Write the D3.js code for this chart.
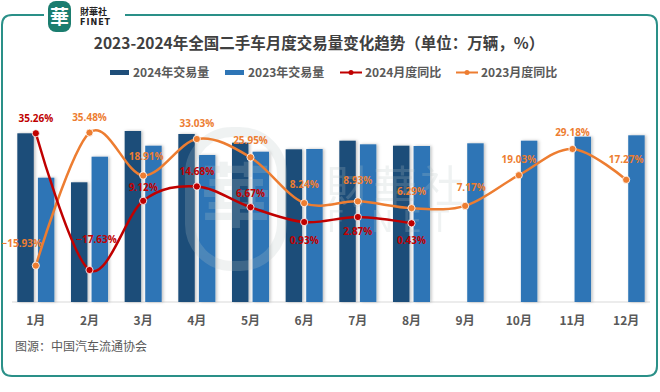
<!DOCTYPE html>
<html><head><meta charset="utf-8">
<script src="https://cdn.jsdelivr.net/npm/d3@7"></script>
<style>
html,body{margin:0;padding:0;background:#fff;}
svg{display:block;font-family:"Noto Sans CJK SC","Noto Sans",sans-serif;}
</style></head>
<body><svg id="c" width="660" height="392"></svg>
<script>
// ---- data ----
const months = ["1月","2月","3月","4月","5月","6月","7月","8月","9月","10月","11月","12月"];
const vol2024 = [168.7, 119.7, 171.0, 168.0, 159.3, 152.7, 161.3, 156.3];
const vol2023 = [124.3, 145.3, 156.3, 147.0, 150.3, 153.0, 157.7, 156.0, 158.7, 161.3, 165.3, 166.7];
const yoy2024 = [35.26, -17.63, 9.12, 14.68, 6.67, 0.93, 2.87, 0.43];
const yoy2023 = [-15.93, 35.48, 18.91, 33.03, 25.95, 8.24, 8.93, 6.29, 7.17, 19.03, 29.18, 17.27];
const seriesNames = ["2024年交易量","2023年交易量","2024月度同比","2023月度同比"];
const titleText = "2023-2024年全国二手车月度交易量变化趋势（单位：万辆，%）";
const sourceText = "图源：中国汽车流通协会";
// label placement (offsets from points)
const lab2024dy = [-15, -31, -13, -15, -14, 18, 14, 17];
const lab2024dx = [0, 7, 0, 0, 0, 0, 0, 0];
const lab2023dy = [-22, -15, -19, -16, -17, -19, -21, -17, -18, -16, -16, -20];
const lab2023dx = [-14, 0, 3, 0, 0, 0, 0, 0, 6, 0, 0, 0];

const C = {dark:"#1f4e79", blue:"#2e75b6", red:"#c00000", orange:"#ed7d31", teal:"#2a9088"};
const svg = d3.select("#c");

const defs = svg.append("defs");
const f = defs.append("filter").attr("id","sh").attr("x","-30%").attr("y","-10%").attr("width","160%").attr("height","120%");
f.append("feDropShadow").attr("dx",1.5).attr("dy",0).attr("stdDeviation",1.5).attr("flood-color","#000").attr("flood-opacity",0.25);

// frame
const fp = d3.path();
fp.moveTo(44,15); fp.lineTo(12,15); fp.quadraticCurveTo(2,15,2,25);
fp.lineTo(2,366); fp.quadraticCurveTo(2,376,12,376);
fp.lineTo(647,376); fp.quadraticCurveTo(657,376,657,366);
fp.lineTo(657,25); fp.quadraticCurveTo(657,15,647,15); fp.lineTo(125,15);
svg.append("path").attr("d",fp.toString()).attr("fill","none").attr("stroke",C.teal).attr("stroke-width",2);

// logo
svg.append("rect").attr("x",48).attr("y",1).attr("width",23).attr("height",31).attr("rx",8).attr("fill","#1b7d6f");
svg.append("text").attr("x",59.5).attr("y",24).attr("text-anchor","middle").attr("font-size",19).attr("font-weight",700).attr("fill","#fff").text("華");
svg.append("text").attr("x",80).attr("y",15).attr("font-size",9).attr("font-weight",700).attr("fill","#222").text("財華社");
svg.append("text").attr("x",80).attr("y",25).attr("font-size",8).attr("font-weight",700).attr("letter-spacing",1).attr("fill","#222").attr("font-family","DejaVu Sans").text("FINET");

// title
svg.append("text").attr("x",319).attr("y",49).attr("text-anchor","middle").attr("font-size",15.5).attr("font-weight",700).attr("fill","#404040").text(titleText);

// legend
const lg = svg.append("g").attr("font-size",12).attr("font-weight",700).attr("fill","#595959");
const legX = [110, 225, 340, 456];
[C.dark, C.blue].forEach((c,i)=>{
  lg.append("rect").attr("x",legX[i]).attr("y",70).attr("width",19).attr("height",5).attr("fill",c);
  lg.append("text").attr("x",legX[i]+23).attr("y",77).text(seriesNames[i]);
});
[C.red, C.orange].forEach((c,i)=>{
  const x0 = legX[i+2];
  lg.append("line").attr("x1",x0).attr("x2",x0+22).attr("y1",72.5).attr("y2",72.5).attr("stroke",c).attr("stroke-width",2);
  lg.append("circle").attr("cx",x0+11).attr("cy",72.5).attr("r",2.5).attr("fill",c);
  lg.append("text").attr("x",x0+25).attr("y",77).text(seriesNames[i+2]);
});

// scales
const x = d3.scaleBand().domain(months).range([9,653]).paddingInner(0.31).paddingOuter(0.155);
const xi = d3.scaleBand().domain(["2024","2023"]).range([0,x.bandwidth()]).paddingInner(0.2);
const y = d3.scaleLinear().domain([0,180]).range([302,122]);
const y2 = d3.scaleLinear().domain([-30,40]).range([302,121]);
const cx = m => x(m) + x.bandwidth()/2;

// axis baseline + labels
const ax = svg.append("g").attr("transform","translate(0,302)").call(d3.axisBottom(x).tickSize(0).tickPadding(14));
ax.select(".domain").attr("stroke","#d9d9d9").attr("d","M12,0H650");
ax.selectAll("text").attr("font-size",12).attr("font-weight",700).attr("fill","#595959").attr("font-family",'"Noto Sans CJK SC",sans-serif');

// bars
const bars = svg.append("g").attr("filter","url(#sh)");
bars.selectAll(".b24").data(vol2024).join("rect")
  .attr("x",(d,i)=>x(months[i])+xi("2024")).attr("width",xi.bandwidth())
  .attr("y",d=>y(d)).attr("height",d=>y(0)-y(d)).attr("fill",C.dark);
bars.selectAll(".b23").data(vol2023).join("rect")
  .attr("x",(d,i)=>x(months[i])+xi("2023")).attr("width",xi.bandwidth())
  .attr("y",d=>y(d)).attr("height",d=>y(0)-y(d)).attr("fill",C.blue);

// watermark
const wm = svg.append("g").attr("opacity",0.22).attr("fill","#b9c6c6").attr("stroke","none");
wm.append("rect").attr("x",190).attr("y",132).attr("width",92).attr("height",134).attr("rx",42).attr("fill","none").attr("stroke","#b9c6c6").attr("stroke-width",10);
wm.append("text").attr("x",236).attr("y",222).attr("text-anchor","middle").attr("font-size",70).attr("font-weight",700).text("華");
wm.append("text").attr("x",326).attr("y",203).attr("font-size",44).attr("letter-spacing",3).text("財華社");
wm.append("text").attr("x",327).attr("y",232).attr("font-size",30).attr("letter-spacing",9).attr("font-family","DejaVu Sans").text("FINET");

// lines
const line = d3.line().curve(d3.curveCardinal.tension(0));
function drawLine(vals, color, dxs, dys){
  const pts = vals.map((v,i)=>[cx(months[i]), y2(v)]);
  svg.append("path").attr("d",line(pts)).attr("fill","none").attr("stroke",color).attr("stroke-width",2.5);
  svg.append("g").selectAll("circle").data(pts).join("circle")
    .attr("cx",d=>d[0]).attr("cy",d=>d[1]).attr("r",3.6).attr("fill",color).attr("stroke","#fff").attr("stroke-width",0.8);
  svg.append("g").selectAll("text").data(vals).join("text")
    .attr("x",(d,i)=>pts[i][0]+dxs[i]).attr("y",(d,i)=>pts[i][1]+dys[i]+3.5)
    .attr("text-anchor","middle").attr("font-size",10).attr("font-weight",700).attr("fill",color)
    .attr("font-family",'"Open Sans","DejaVu Sans",sans-serif')
    .text(d=>d3.format(".2f")(d)+"%");
}
drawLine(yoy2023, C.orange, lab2023dx, lab2023dy);
drawLine(yoy2024, C.red, lab2024dx, lab2024dy);

// source
svg.append("text").attr("x",15).attr("y",351).attr("font-size",12).attr("fill","#595959").text(sourceText);
</script></body></html>
